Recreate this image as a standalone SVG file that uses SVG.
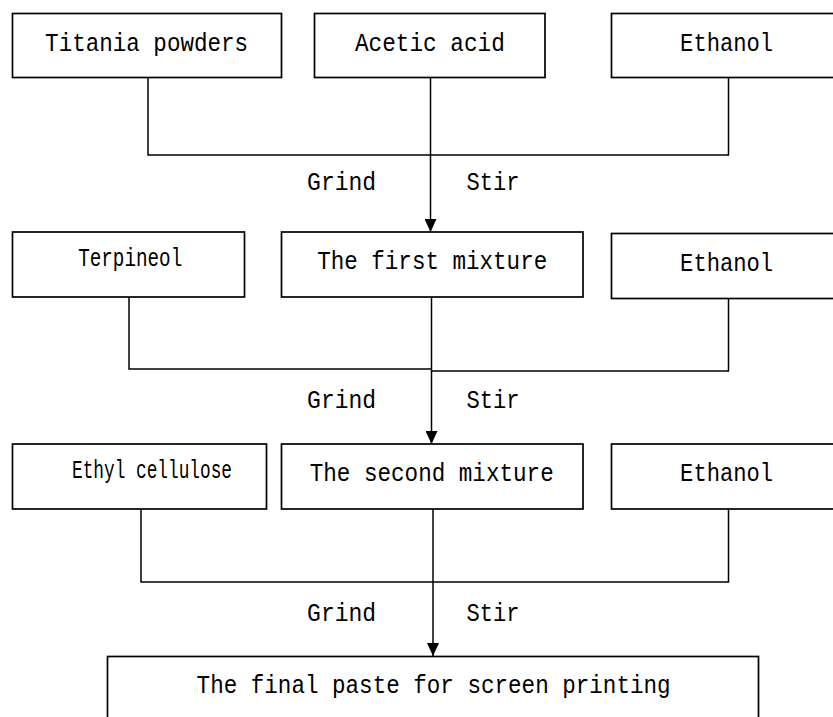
<svg xmlns="http://www.w3.org/2000/svg" width="833" height="717" viewBox="0 0 833 717">
<style>
.box{fill:#fff;stroke:#000;stroke-width:1.7}
.ln{fill:none;stroke:#000;stroke-width:1.5}
text{font-family:"Liberation Mono","DejaVu Sans Mono",monospace;font-size:25px;fill:#000;text-anchor:middle}
</style>
<defs>
<marker id="ah" markerUnits="userSpaceOnUse" markerWidth="13" markerHeight="12" refX="13" refY="6" orient="auto">
<path d="M0,0 L13,6 L0,12 z" fill="#000"/>
</marker>
</defs>
<rect width="833" height="717" fill="#fff"/>
<g id="connectors">
<path class="ln" d="M148,78 V155 H728.5 V78"/>
<path class="ln" d="M430.5,78 V232" marker-end="url(#ah)"/>
<path class="ln" d="M129,297 V369 H431.5"/>
<path class="ln" d="M431.5,371 H728.5 V298"/>
<path class="ln" d="M431.5,297 V444" marker-end="url(#ah)"/>
<path class="ln" d="M141,509 V582 H728.5 V509"/>
<path class="ln" d="M433,509 V656" marker-end="url(#ah)"/>
<text x="341.6" y="190" textLength="69" lengthAdjust="spacingAndGlyphs">Grind</text>
<text x="493" y="190" textLength="53" lengthAdjust="spacingAndGlyphs">Stir</text>
<text x="341.6" y="408" textLength="69" lengthAdjust="spacingAndGlyphs">Grind</text>
<text x="493" y="408" textLength="53" lengthAdjust="spacingAndGlyphs">Stir</text>
<text x="341.6" y="621" textLength="69" lengthAdjust="spacingAndGlyphs">Grind</text>
<text x="493" y="621" textLength="53" lengthAdjust="spacingAndGlyphs">Stir</text>
</g>
<g id="titania">
<rect class="box" x="12.5" y="13.5" width="269" height="64"/>
<text x="146.6" y="51" textLength="203" lengthAdjust="spacingAndGlyphs">Titania powders</text>
</g>
<g id="acetic">
<rect class="box" x="314.5" y="13.5" width="230.5" height="64"/>
<text x="429.9" y="51" textLength="150" lengthAdjust="spacingAndGlyphs">Acetic acid</text>
</g>
<g id="ethanol1">
<rect class="box" x="611.5" y="13.5" width="225" height="64"/>
<text x="726.6" y="51" textLength="93" lengthAdjust="spacingAndGlyphs">Ethanol</text>
</g>
<g id="terpineol">
<rect class="box" x="12.5" y="232" width="232" height="65"/>
<text x="130.2" y="266" textLength="104" lengthAdjust="spacingAndGlyphs">Terpineol</text>
</g>
<g id="first-mixture">
<rect class="box" x="281.5" y="232" width="301.5" height="65"/>
<text x="432.2" y="269" textLength="230" lengthAdjust="spacingAndGlyphs">The first mixture</text>
</g>
<g id="ethanol2">
<rect class="box" x="611.5" y="233.5" width="225" height="65"/>
<text x="726.6" y="271" textLength="93" lengthAdjust="spacingAndGlyphs">Ethanol</text>
</g>
<g id="ethyl-cellulose">
<rect class="box" x="12.5" y="444" width="254" height="65"/>
<text x="152" y="478" textLength="160" lengthAdjust="spacingAndGlyphs">Ethyl cellulose</text>
</g>
<g id="second-mixture">
<rect class="box" x="281.5" y="444" width="301.5" height="65"/>
<text x="431.7" y="481" textLength="244" lengthAdjust="spacingAndGlyphs">The second mixture</text>
</g>
<g id="ethanol3">
<rect class="box" x="611.5" y="444" width="225" height="65"/>
<text x="726.6" y="481" textLength="93" lengthAdjust="spacingAndGlyphs">Ethanol</text>
</g>
<g id="final-paste">
<rect class="box" x="107.5" y="656.5" width="651" height="70"/>
<text x="433.6" y="693" textLength="474" lengthAdjust="spacingAndGlyphs">The final paste for screen printing</text>
</g>
</svg>
